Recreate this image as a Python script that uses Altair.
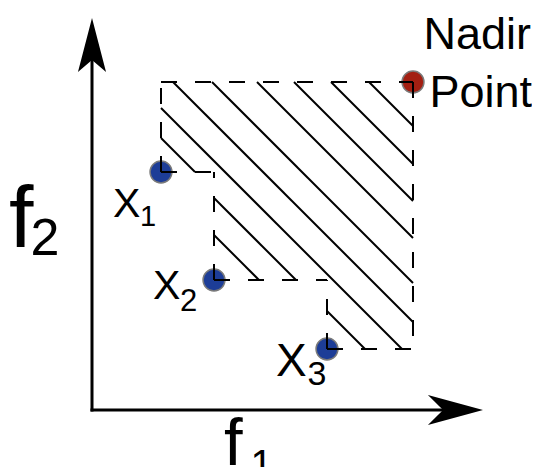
import altair as alt
import pandas as pd

# ---- values (objective space f1, f2) ----
point_names = ["x1", "x2", "x3"]
point_f1 = [69, 122, 235]
point_f2 = [238, 130, 61]
nadir_f1 = [321]
nadir_f2 = [328]

# hatching lines: f1 + f2 = c, drawn only where f1 is within [lo, hi]
hatch_c = [605, 567, 530, 493, 448, 409, 371, 341, 334, 297]
hatch_lo = [0, 0, 0, 0, 0, 0, 0, 0, 122, 0]
hatch_hi = [400, 400, 400, 400, 400, 400, 400, 122, 400, 235]

# axis arrow lengths
axis_f1_end = [391]
axis_f2_end = [392]

# labels
label_text = ["f", "2", "f", "1", "X", "1", "X", "2", "X", "3", "Nadir", "Point"]
label_f1 = [-83, -61.5, 132, 158.5, 21, 48, 61, 88, 184, 215.5, 331.5, 337.5]
label_f2 = [163, 155, -55, -68, 193, 184, 111, 99, 34, 25, 361, 303]
label_size = [88, 52, 67, 40, 41, 29, 41, 31, 46, 34, 45, 45]

# ---- build tables ----
pts = list(zip(point_f1, point_f2))
nx, ny = nadir_f1[0], nadir_f2[0]

dash_rows = []
dash_rows.append((pts[0][0], pts[0][1], pts[0][0], ny))
dash_rows.append((pts[0][0], ny, nx, ny))
dash_rows.append((nx, ny, nx, pts[-1][1]))
dash_rows.append((pts[-1][0], pts[-1][1], nx, pts[-1][1]))
for i in range(len(pts) - 1):
    a, b = pts[i], pts[i + 1]
    dash_rows.append((a[0], a[1], b[0], a[1]))
    dash_rows.append((b[0], b[1], b[0], a[1]))
dash_df = pd.DataFrame(dash_rows, columns=["x", "y", "x2", "y2"])

rects = [(p[0], nx, p[1], ny) for p in pts]
hatch_rows = []
for c, lo, hi in zip(hatch_c, hatch_lo, hatch_hi):
    iv = []
    for (x0, x1, y0, y1) in rects:
        a = max(x0, c - y1, lo)
        b = min(x1, c - y0, hi)
        if b - a > 1:
            iv.append([a, b])
    iv.sort()
    merged = []
    for a, b in iv:
        if merged and a <= merged[-1][1]:
            merged[-1][1] = max(merged[-1][1], b)
        else:
            merged.append([a, b])
    for a, b in merged:
        hatch_rows.append((a, c - a, b, c - b))
hatch_df = pd.DataFrame(hatch_rows, columns=["x", "y", "x2", "y2"])

pts_df = pd.DataFrame({"name": point_names, "f1": point_f1, "f2": point_f2})
nadir_df = pd.DataFrame({"f1": nadir_f1, "f2": nadir_f2})

shaft_df = pd.DataFrame({
    "x": [0, 0], "y": [0, 0],
    "x2": [axis_f1_end[0] - 20, 0], "y2": [0, axis_f2_end[0] - 20],
})
up_tip = pd.DataFrame({"f1": [0], "f2": axis_f2_end})
right_tip = pd.DataFrame({"f1": axis_f1_end, "f2": [0]})

lab_df = pd.DataFrame({"t": label_text, "f1": label_f1, "f2": label_f2, "s": label_size})

xs = alt.Scale(domain=[-84, 440], nice=False, zero=False)
ys = alt.Scale(domain=[-57, 402], nice=False, zero=False)


def rule_enc(ch):
    return ch.encode(
        x=alt.X("x:Q", scale=xs, axis=None),
        y=alt.Y("y:Q", scale=ys, axis=None),
        x2="x2:Q", y2="y2:Q",
    )


hatch = rule_enc(alt.Chart(hatch_df).mark_rule(color="black", strokeWidth=2, clip=False))
dashed = rule_enc(alt.Chart(dash_df).mark_rule(color="black", strokeWidth=2, strokeDash=[16, 18], clip=False))
shafts = rule_enc(alt.Chart(shaft_df).mark_rule(color="black", strokeWidth=3, strokeCap="square", clip=False))

pt_enc = dict(x=alt.X("f1:Q", scale=xs, axis=None), y=alt.Y("f2:Q", scale=ys, axis=None))

blue = alt.Chart(pts_df).mark_circle(
    size=480, color="#1d3d97", opacity=1, stroke="#7a7a7a", strokeWidth=1.5, clip=False
).encode(**pt_enc)
red = alt.Chart(nadir_df).mark_circle(
    size=480, color="#a31f12", opacity=1, stroke="#7a7a7a", strokeWidth=1.5, clip=False
).encode(**pt_enc)

up_head = alt.Chart(up_tip).mark_point(
    shape="M0,0L0.52,2L0,1.56L-0.52,2Z", size=2916, filled=True,
    color="black", opacity=1, strokeWidth=0, clip=False
).encode(**pt_enc)
right_head = alt.Chart(right_tip).mark_point(
    shape="M0,0L-2.04,0.56L-1.48,0L-2.04,-0.56Z", size=2916, filled=True,
    color="black", opacity=1, strokeWidth=0, clip=False
).encode(**pt_enc)

labels = alt.Chart(lab_df).mark_text(
    align="left", baseline="alphabetic", font="Liberation Sans", color="black", clip=False
).encode(
    x=alt.X("f1:Q", scale=xs, axis=None),
    y=alt.Y("f2:Q", scale=ys, axis=None),
    text="t:N",
    size=alt.Size("s:Q", scale=None, legend=None),
)

chart = alt.layer(
    hatch, blue, red, dashed, shafts, up_head, right_head, labels
).properties(
    width=524, height=459, padding=0,
    autosize=alt.AutoSizeParams(type="none"),
    background="white",
).configure_view(stroke=None)

chart.save("out.html", embed_options={"renderer": "svg", "actions": False})
